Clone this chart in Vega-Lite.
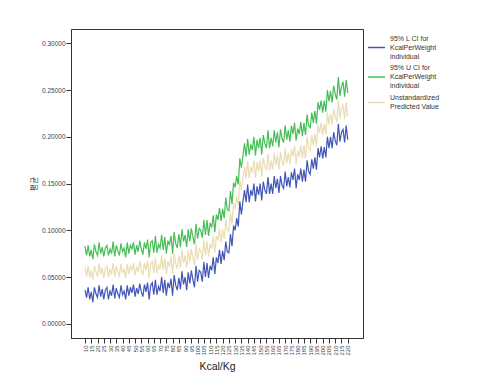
{
  "$schema": "https://vega.github.io/schema/vega-lite/v6.json",
  "width": 292,
  "height": 309,
  "autosize": "none",
  "padding": {"left": 71, "top": 29, "right": 126, "bottom": 50},
  "background": "white",
  "data": {"values": [
    {"k":10,"lo":0.036,"p":0.060,"hi":0.083},
    {"k":11.25,"lo":0.028,"p":0.051,"hi":0.073},
    {"k":12.5,"lo":0.039,"p":0.062,"hi":0.084},
    {"k":13.75,"lo":0.026,"p":0.049,"hi":0.072},
    {"k":15,"lo":0.034,"p":0.057,"hi":0.079},
    {"k":16.25,"lo":0.023,"p":0.047,"hi":0.069},
    {"k":17.5,"lo":0.039,"p":0.062,"hi":0.085},
    {"k":18.75,"lo":0.032,"p":0.055,"hi":0.077},
    {"k":20,"lo":0.028,"p":0.051,"hi":0.073},
    {"k":21.25,"lo":0.041,"p":0.064,"hi":0.087},
    {"k":22.5,"lo":0.029,"p":0.053,"hi":0.075},
    {"k":23.75,"lo":0.037,"p":0.060,"hi":0.082},
    {"k":25,"lo":0.026,"p":0.049,"hi":0.072},
    {"k":26.25,"lo":0.036,"p":0.059,"hi":0.081},
    {"k":27.5,"lo":0.039,"p":0.062,"hi":0.084},
    {"k":28.75,"lo":0.026,"p":0.050,"hi":0.073},
    {"k":30,"lo":0.035,"p":0.058,"hi":0.080},
    {"k":31.25,"lo":0.030,"p":0.053,"hi":0.075},
    {"k":32.5,"lo":0.042,"p":0.065,"hi":0.088},
    {"k":33.75,"lo":0.027,"p":0.050,"hi":0.072},
    {"k":35,"lo":0.038,"p":0.062,"hi":0.084},
    {"k":36.25,"lo":0.032,"p":0.055,"hi":0.078},
    {"k":37.5,"lo":0.028,"p":0.051,"hi":0.073},
    {"k":38.75,"lo":0.041,"p":0.064,"hi":0.086},
    {"k":40,"lo":0.031,"p":0.054,"hi":0.077},
    {"k":41.25,"lo":0.035,"p":0.059,"hi":0.081},
    {"k":42.5,"lo":0.026,"p":0.049,"hi":0.071},
    {"k":43.75,"lo":0.041,"p":0.064,"hi":0.087},
    {"k":45,"lo":0.030,"p":0.053,"hi":0.075},
    {"k":46.25,"lo":0.039,"p":0.062,"hi":0.084},
    {"k":47.5,"lo":0.033,"p":0.057,"hi":0.080},
    {"k":48.75,"lo":0.042,"p":0.065,"hi":0.087},
    {"k":50,"lo":0.029,"p":0.052,"hi":0.074},
    {"k":51.25,"lo":0.038,"p":0.061,"hi":0.084},
    {"k":52.5,"lo":0.032,"p":0.055,"hi":0.077},
    {"k":53.75,"lo":0.043,"p":0.067,"hi":0.089},
    {"k":55,"lo":0.034,"p":0.057,"hi":0.080},
    {"k":56.25,"lo":0.029,"p":0.052,"hi":0.074},
    {"k":57.5,"lo":0.042,"p":0.065,"hi":0.087},
    {"k":58.75,"lo":0.034,"p":0.057,"hi":0.080},
    {"k":60,"lo":0.044,"p":0.068,"hi":0.090},
    {"k":61.25,"lo":0.026,"p":0.049,"hi":0.071},
    {"k":62.5,"lo":0.041,"p":0.064,"hi":0.087},
    {"k":63.75,"lo":0.044,"p":0.067,"hi":0.089},
    {"k":65,"lo":0.031,"p":0.054,"hi":0.076},
    {"k":66.25,"lo":0.047,"p":0.071,"hi":0.094},
    {"k":67.5,"lo":0.031,"p":0.054,"hi":0.076},
    {"k":68.75,"lo":0.040,"p":0.063,"hi":0.085},
    {"k":70,"lo":0.035,"p":0.058,"hi":0.081},
    {"k":71.25,"lo":0.050,"p":0.073,"hi":0.095},
    {"k":72.5,"lo":0.033,"p":0.057,"hi":0.079},
    {"k":73.75,"lo":0.047,"p":0.070,"hi":0.093},
    {"k":75,"lo":0.030,"p":0.053,"hi":0.075},
    {"k":76.25,"lo":0.044,"p":0.067,"hi":0.089},
    {"k":77.5,"lo":0.038,"p":0.061,"hi":0.084},
    {"k":78.75,"lo":0.048,"p":0.072,"hi":0.094},
    {"k":80,"lo":0.030,"p":0.053,"hi":0.075},
    {"k":81.25,"lo":0.052,"p":0.075,"hi":0.098},
    {"k":82.5,"lo":0.041,"p":0.064,"hi":0.086},
    {"k":83.75,"lo":0.036,"p":0.059,"hi":0.081},
    {"k":85,"lo":0.049,"p":0.073,"hi":0.096},
    {"k":86.25,"lo":0.037,"p":0.060,"hi":0.082},
    {"k":87.5,"lo":0.056,"p":0.079,"hi":0.101},
    {"k":88.75,"lo":0.042,"p":0.065,"hi":0.088},
    {"k":90,"lo":0.050,"p":0.073,"hi":0.095},
    {"k":91.25,"lo":0.036,"p":0.060,"hi":0.082},
    {"k":92.5,"lo":0.055,"p":0.078,"hi":0.101},
    {"k":93.75,"lo":0.043,"p":0.066,"hi":0.088},
    {"k":95,"lo":0.057,"p":0.080,"hi":0.102},
    {"k":96.25,"lo":0.047,"p":0.070,"hi":0.093},
    {"k":97.5,"lo":0.039,"p":0.063,"hi":0.085},
    {"k":98.75,"lo":0.062,"p":0.085,"hi":0.107},
    {"k":100,"lo":0.045,"p":0.068,"hi":0.091},
    {"k":101.25,"lo":0.057,"p":0.080,"hi":0.102},
    {"k":102.5,"lo":0.055,"p":0.078,"hi":0.100},
    {"k":103.75,"lo":0.045,"p":0.069,"hi":0.092},
    {"k":105,"lo":0.066,"p":0.089,"hi":0.111},
    {"k":106.25,"lo":0.050,"p":0.073,"hi":0.095},
    {"k":107.5,"lo":0.065,"p":0.088,"hi":0.111},
    {"k":108.75,"lo":0.049,"p":0.072,"hi":0.094},
    {"k":110,"lo":0.062,"p":0.086,"hi":0.108},
    {"k":111.25,"lo":0.057,"p":0.080,"hi":0.103},
    {"k":112.5,"lo":0.071,"p":0.094,"hi":0.116},
    {"k":113.75,"lo":0.053,"p":0.076,"hi":0.098},
    {"k":115,"lo":0.071,"p":0.094,"hi":0.117},
    {"k":116.25,"lo":0.065,"p":0.089,"hi":0.111},
    {"k":117.5,"lo":0.079,"p":0.102,"hi":0.124},
    {"k":118.75,"lo":0.064,"p":0.087,"hi":0.110},
    {"k":120,"lo":0.078,"p":0.101,"hi":0.123},
    {"k":121.25,"lo":0.068,"p":0.091,"hi":0.113},
    {"k":122.5,"lo":0.088,"p":0.112,"hi":0.135},
    {"k":123.75,"lo":0.077,"p":0.100,"hi":0.122},
    {"k":125,"lo":0.076,"p":0.099,"hi":0.121},
    {"k":126.25,"lo":0.096,"p":0.119,"hi":0.142},
    {"k":127.5,"lo":0.083,"p":0.106,"hi":0.128},
    {"k":128.75,"lo":0.105,"p":0.129,"hi":0.151},
    {"k":130,"lo":0.100,"p":0.123,"hi":0.146},
    {"k":131.25,"lo":0.113,"p":0.136,"hi":0.158},
    {"k":132.5,"lo":0.104,"p":0.127,"hi":0.149},
    {"k":133.75,"lo":0.131,"p":0.154,"hi":0.177},
    {"k":135,"lo":0.117,"p":0.143,"hi":0.167},
    {"k":136.25,"lo":0.131,"p":0.156,"hi":0.180},
    {"k":137.5,"lo":0.143,"p":0.168,"hi":0.193},
    {"k":138.75,"lo":0.130,"p":0.155,"hi":0.179},
    {"k":140,"lo":0.149,"p":0.174,"hi":0.198},
    {"k":141.25,"lo":0.130,"p":0.156,"hi":0.181},
    {"k":142.5,"lo":0.143,"p":0.168,"hi":0.192},
    {"k":143.75,"lo":0.137,"p":0.162,"hi":0.186},
    {"k":145,"lo":0.150,"p":0.175,"hi":0.200},
    {"k":146.25,"lo":0.131,"p":0.156,"hi":0.180},
    {"k":147.5,"lo":0.147,"p":0.173,"hi":0.197},
    {"k":148.75,"lo":0.138,"p":0.163,"hi":0.188},
    {"k":150,"lo":0.150,"p":0.175,"hi":0.199},
    {"k":151.25,"lo":0.132,"p":0.157,"hi":0.181},
    {"k":152.5,"lo":0.152,"p":0.177,"hi":0.202},
    {"k":153.75,"lo":0.143,"p":0.169,"hi":0.193},
    {"k":155,"lo":0.139,"p":0.164,"hi":0.188},
    {"k":156.25,"lo":0.157,"p":0.182,"hi":0.207},
    {"k":157.5,"lo":0.139,"p":0.164,"hi":0.188},
    {"k":158.75,"lo":0.150,"p":0.175,"hi":0.199},
    {"k":160,"lo":0.139,"p":0.165,"hi":0.190},
    {"k":161.25,"lo":0.158,"p":0.183,"hi":0.207},
    {"k":162.5,"lo":0.145,"p":0.170,"hi":0.194},
    {"k":163.75,"lo":0.155,"p":0.180,"hi":0.205},
    {"k":165,"lo":0.140,"p":0.165,"hi":0.189},
    {"k":166.25,"lo":0.158,"p":0.184,"hi":0.208},
    {"k":167.5,"lo":0.148,"p":0.173,"hi":0.198},
    {"k":168.75,"lo":0.145,"p":0.170,"hi":0.194},
    {"k":170,"lo":0.163,"p":0.188,"hi":0.212},
    {"k":171.25,"lo":0.147,"p":0.172,"hi":0.197},
    {"k":172.5,"lo":0.157,"p":0.183,"hi":0.207},
    {"k":173.75,"lo":0.146,"p":0.171,"hi":0.195},
    {"k":175,"lo":0.162,"p":0.187,"hi":0.212},
    {"k":176.25,"lo":0.154,"p":0.179,"hi":0.203},
    {"k":177.5,"lo":0.166,"p":0.191,"hi":0.215},
    {"k":178.75,"lo":0.145,"p":0.171,"hi":0.196},
    {"k":180,"lo":0.160,"p":0.185,"hi":0.209},
    {"k":181.25,"lo":0.154,"p":0.179,"hi":0.203},
    {"k":182.5,"lo":0.166,"p":0.191,"hi":0.216},
    {"k":183.75,"lo":0.152,"p":0.177,"hi":0.201},
    {"k":185,"lo":0.165,"p":0.191,"hi":0.215},
    {"k":186.25,"lo":0.152,"p":0.177,"hi":0.202},
    {"k":187.5,"lo":0.175,"p":0.200,"hi":0.224},
    {"k":188.75,"lo":0.163,"p":0.188,"hi":0.212},
    {"k":190,"lo":0.160,"p":0.185,"hi":0.210},
    {"k":191.25,"lo":0.176,"p":0.202,"hi":0.226},
    {"k":192.5,"lo":0.166,"p":0.191,"hi":0.215},
    {"k":193.75,"lo":0.178,"p":0.203,"hi":0.228},
    {"k":195,"lo":0.165,"p":0.190,"hi":0.214},
    {"k":196.25,"lo":0.188,"p":0.213,"hi":0.237},
    {"k":197.5,"lo":0.178,"p":0.204,"hi":0.229},
    {"k":198.75,"lo":0.190,"p":0.215,"hi":0.239},
    {"k":200,"lo":0.177,"p":0.202,"hi":0.226},
    {"k":201.25,"lo":0.189,"p":0.214,"hi":0.239},
    {"k":202.5,"lo":0.178,"p":0.203,"hi":0.227},
    {"k":203.75,"lo":0.200,"p":0.226,"hi":0.250},
    {"k":205,"lo":0.188,"p":0.213,"hi":0.238},
    {"k":206.25,"lo":0.200,"p":0.225,"hi":0.249},
    {"k":207.5,"lo":0.188,"p":0.213,"hi":0.237},
    {"k":208.75,"lo":0.205,"p":0.230,"hi":0.255},
    {"k":210,"lo":0.196,"p":0.222,"hi":0.246},
    {"k":211.25,"lo":0.191,"p":0.216,"hi":0.240},
    {"k":212.5,"lo":0.214,"p":0.239,"hi":0.264},
    {"k":213.75,"lo":0.195,"p":0.220,"hi":0.244},
    {"k":215,"lo":0.205,"p":0.230,"hi":0.254},
    {"k":216.25,"lo":0.208,"p":0.234,"hi":0.259},
    {"k":217.5,"lo":0.194,"p":0.219,"hi":0.243},
    {"k":218.75,"lo":0.212,"p":0.237,"hi":0.261},
    {"k":220,"lo":0.197,"p":0.222,"hi":0.247}
  ]},
  "transform": [{"fold": ["lo", "hi", "p"], "as": ["series", "value"]}],
  "mark": {"type": "line", "strokeWidth": 1.2},
  "encoding": {
    "x": {
      "field": "k", "type": "quantitative",
      "scale": {"domain": [-1.2, 232.2], "nice": false, "zero": false},
      "axis": {
        "values": [10,15,20,25,30,35,40,45,50,55,60,65,70,75,80,85,90,95,100,105,110,115,120,125,130,135,140,145,150,155,160,165,170,175,180,185,190,195,200,205,210,215,220],
        "format": "d", "labelAngle": -90, "labelFontSize": 6, "labelColor": "#444",
        "labelOverlap": false, "labelBound": false, "labelFlush": false, "labelPadding": 2,
        "tickSize": 5, "tickColor": "#333", "domainColor": "#333",
        "title": "Kcal/Kg", "titleFontSize": 10.5, "titleFontWeight": "normal", "titleColor": "#222", "titlePadding": 6
      }
    },
    "y": {
      "field": "value", "type": "quantitative",
      "scale": {"domain": [-0.0153, 0.3155], "nice": false, "zero": false},
      "axis": {
        "values": [0, 0.05, 0.1, 0.15, 0.2, 0.25, 0.3],
        "format": ".5f", "labelFontSize": 6.5, "labelColor": "#444", "labelPadding": 1,
        "tickSize": 5, "tickColor": "#333", "domainColor": "#333",
        "title": "평균", "titleFont": "Noto Sans CJK KR", "titleFontSize": 8, "titleFontWeight": "normal", "titleColor": "#333", "titlePadding": 3
      }
    },
    "color": {
      "field": "series", "type": "nominal",
      "scale": {"domain": ["lo", "hi", "p"], "range": ["#4256b8", "#45bf55", "#e9ddb3"]},
      "legend": {
        "title": null, "orient": "none", "legendX": 296, "legendY": 9,
        "symbolType": "stroke", "symbolSize": 289, "symbolStrokeWidth": 1.5,
        "labelFontSize": 7, "labelColor": "#333", "labelLimit": 0, "labelOffset": 4,
        "rowPadding": 3.5, "padding": 0,
        "labelExpr": "datum.label == 'lo' ? ['95% L CI for', 'KcalPerWeight', 'individual'] : datum.label == 'hi' ? ['95% U CI for', 'KcalPerWeight', 'individual'] : ['Unstandardized', 'Predicted Value']",
        "encode": {
          "labels": {"update": {"dy": {"signal": "datum.value == 'p' ? -4.5 : -9"}}}
        }
      }
    }
  },
  "config": {
    "font": "Liberation Sans",
    "view": {"stroke": "#333", "strokeWidth": 1},
    "axis": {"grid": false}
  }
}
